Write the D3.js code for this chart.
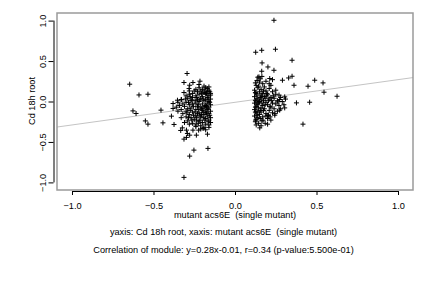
<!DOCTYPE html>
<html>
<head>
<meta charset="utf-8">
<script src="https://cdn.jsdelivr.net/npm/d3@7"></script>
<style>
  body { margin: 0; background: #fff; }
  svg text { font-family: "Liberation Sans", Arial, sans-serif; fill: #000; white-space: pre; }
</style>
</head>
<body>
<svg class="plotSVG" width="432" height="288"></svg>
<script>
// regression of module
const slope = 0.28;
const intercept = -0.01;

const xTicks = [-1.0, -0.5, 0.0, 0.5, 1.0];
const yTicks = [-1.0, -0.5, 0.0, 0.5, 1.0];

const xLabel = 'mutant acs6E  (single mutant)';
const yLabel = 'Cd 18h root';
const subLines = [
  'yaxis: Cd 18h root, xaxis: mutant acs6E  (single mutant)',
  'Correlation of module: y=0.28x-0.01, r=0.34 (p-value:5.500e-01)'
];

// scattered points, left side
const leftOutliers = [
  [-0.646, 0.214], [-0.589, 0.081], [-0.534, 0.090], [-0.626, -0.116], [-0.607, -0.148],
  [-0.454, -0.107], [-0.550, -0.240], [-0.534, -0.280], [-0.442, -0.264],
  [-0.294, 0.346], [-0.313, 0.235], [-0.258, 0.235], [-0.215, 0.251], [-0.221, 0.21],
  [-0.278, 0.201], [-0.282, 0.16], [-0.313, 0.111], [-0.374, -0.284], [-0.39, -0.181],
  [-0.38, -0.025], [-0.38, -0.086], [-0.353, 0.016], [-0.329, 0.025], [-0.333, -0.358],
  [-0.323, -0.326], [-0.313, -0.465], [-0.298, -0.444], [-0.292, -0.395], [-0.298, -0.354],
  [-0.258, -0.354], [-0.278, -0.416], [-0.223, -0.354], [-0.237, -0.416], [-0.196, -0.333],
  [-0.169, -0.404], [-0.252, -0.601], [-0.166, -0.58], [-0.278, -0.675], [-0.313, -0.938]
];

// dense cluster around x = -0.2
const leftCluster = [
  [-0.16,0.14],[-0.17,0.12],[-0.15,0.10],[-0.18,0.09],[-0.16,0.07],[-0.19,0.11],[-0.17,0.05],
  [-0.15,0.03],[-0.18,0.02],[-0.16,0.00],[-0.20,0.06],[-0.19,0.01],[-0.17,-0.02],[-0.15,-0.04],
  [-0.18,-0.05],[-0.16,-0.07],[-0.20,-0.03],[-0.19,-0.08],[-0.17,-0.10],[-0.15,-0.12],[-0.18,-0.13],
  [-0.16,-0.15],[-0.20,-0.11],[-0.19,-0.16],[-0.17,-0.18],[-0.15,-0.20],[-0.18,-0.21],[-0.16,-0.23],
  [-0.21,-0.19],[-0.22,-0.14],[-0.21,-0.07],[-0.22,0.00],[-0.21,0.04],[-0.22,0.09],[-0.23,0.12],
  [-0.24,0.07],[-0.23,0.02],[-0.24,-0.02],[-0.23,-0.06],[-0.24,-0.10],[-0.23,-0.15],[-0.24,-0.18],
  [-0.25,-0.22],[-0.22,-0.24],[-0.20,-0.26],[-0.18,-0.28],[-0.26,-0.13],[-0.27,-0.08],[-0.26,-0.03],
  [-0.27,0.01],[-0.26,0.05],[-0.28,0.09],[-0.25,0.13],[-0.29,0.04],[-0.28,-0.04],[-0.29,-0.09],
  [-0.28,-0.16],[-0.30,-0.12],[-0.31,-0.06],[-0.30,-0.01],[-0.32,-0.03],[-0.30,-0.19],[-0.27,-0.20],
  [-0.29,-0.24],[-0.26,-0.27],[-0.24,-0.29],[-0.21,-0.30],[-0.19,-0.32],[-0.16,-0.29],[-0.17,0.16],
  [-0.16,0.18],[-0.18,0.17],[-0.20,0.15],[-0.19,0.19],[-0.22,0.17],[-0.21,0.13],[-0.24,0.15],
  [-0.26,0.10],[-0.28,0.13],[-0.30,0.07],[-0.33,0.02],[-0.34,-0.05],[-0.33,-0.10],[-0.32,-0.15],
  [-0.35,-0.12],[-0.33,-0.20],[-0.35,-0.01],[-0.36,-0.07],[-0.15,0.08],[-0.155,-0.01],[-0.165,-0.09],
  [-0.175,-0.14],[-0.185,-0.06],[-0.195,0.03],[-0.205,-0.09],[-0.215,-0.17],[-0.225,-0.04],[-0.235,0.05],
  [-0.245,-0.13],[-0.255,-0.06],[-0.265,0.02],[-0.275,-0.11],[-0.285,-0.01],[-0.295,-0.14],[-0.305,0.03],
  [-0.155,0.12],[-0.165,0.03],[-0.175,-0.06],[-0.185,0.13],[-0.195,-0.13],[-0.205,0.10],[-0.215,0.02],
  [-0.225,-0.10],[-0.235,-0.20],[-0.245,0.01],[-0.255,-0.17],[-0.265,-0.23],[-0.275,0.06],[-0.285,-0.20],
  [-0.155,-0.17],[-0.165,-0.25],[-0.175,0.10],[-0.185,-0.23],[-0.195,-0.20],[-0.205,-0.16],[-0.215,-0.23],
  [-0.225,-0.27],[-0.235,-0.24],[-0.15,-0.26],[-0.16,-0.32],[-0.18,-0.35],[-0.21,-0.34],[-0.24,-0.31],
  [-0.28,-0.28],[-0.31,-0.26]
];

// scattered points, right side
const rightOutliers = [
  [0.239, 1.004], [0.127, 0.609], [0.164, 0.633], [0.248, 0.646], [0.35, 0.51],
  [0.166, 0.477], [0.202, 0.427], [0.164, 0.374], [0.239, 0.386], [0.147, 0.304],
  [0.213, 0.284], [0.291, 0.263], [0.329, 0.291], [0.35, 0.312], [0.489, 0.263],
  [0.54, 0.230], [0.448, 0.189], [0.362, 0.201], [0.546, 0.115], [0.626, 0.065],
  [0.458, -0.009], [0.377, -0.017], [0.417, -0.28], [0.25, 0.14], [0.305, 0.057],
  [0.305, -0.079], [0.274, -0.107], [0.244, -0.169], [0.202, -0.169], [0.152, -0.326],
  [0.127, -0.231], [0.172, -0.231], [0.274, 0.025], [0.264, -0.005]
];

// dense cluster around x = 0.17
const rightCluster = [
  [0.13,0.20],[0.14,0.17],[0.12,0.14],[0.15,0.12],[0.13,0.10],[0.16,0.08],[0.12,0.06],[0.14,0.04],
  [0.13,0.02],[0.15,0.00],[0.12,-0.02],[0.14,-0.04],[0.13,-0.06],[0.16,-0.08],[0.12,-0.10],[0.14,-0.12],
  [0.13,-0.14],[0.15,-0.16],[0.12,-0.18],[0.14,-0.20],[0.13,-0.22],[0.17,-0.19],[0.16,-0.13],[0.17,-0.05],
  [0.16,0.02],[0.17,0.10],[0.16,0.15],[0.18,0.18],[0.19,0.13],[0.18,0.06],[0.19,-0.01],[0.18,-0.09],
  [0.19,-0.15],[0.20,-0.21],[0.21,-0.11],[0.20,-0.04],[0.21,0.03],[0.20,0.09],[0.21,0.16],[0.22,0.20],
  [0.23,0.12],[0.22,0.05],[0.23,-0.02],[0.22,-0.07],[0.23,-0.14],[0.24,-0.09],[0.25,-0.03],[0.24,0.04],
  [0.25,0.09],[0.26,0.01],[0.27,-0.05],[0.26,-0.12],[0.28,0.05],[0.29,0.00],[0.27,0.08],[0.30,-0.04],
  [0.31,0.03],[0.28,-0.09],[0.125,0.23],[0.135,0.26],[0.15,0.24],[0.17,0.22],[0.19,0.25],[0.21,0.22],
  [0.23,0.27],[0.135,0.08],[0.145,-0.01],[0.125,-0.07],[0.155,-0.11],[0.135,-0.17],[0.125,-0.25],[0.145,-0.27],
  [0.165,-0.24],[0.185,-0.27],[0.175,0.01],[0.185,0.04],[0.175,-0.11],[0.195,0.07],[0.205,-0.17],[0.145,0.19],
  [0.155,0.05],[0.125,0.11],[0.165,-0.02],[0.145,-0.08],[0.155,-0.21],[0.125,0.01],[0.135,-0.03],[0.175,0.13],
  [0.195,0.10],[0.215,-0.06],[0.225,0.01],[0.235,0.07],[0.245,-0.15],[0.215,-0.19],[0.125,-0.13],[0.165,0.06],
  [0.185,-0.04],[0.205,0.01],[0.155,0.28],[0.165,0.31],[0.14,0.30],[0.13,-0.29],[0.16,-0.30],[0.20,-0.28],
  [0.22,-0.23],[0.19,-0.18]
];

const svg = d3.select('svg.plotSVG');
const fontSize = '9.2px';

const box = {left: 57, right: 413, top: 13, bottom: 190};

const x = d3.scaleLinear()
    .domain([-1.092, 1.092])
    .range([box.left, box.right]);

const y = d3.scaleLinear()
    .domain([-1.094, 1.094])
    .range([box.bottom, box.top]);

// regression line, clipped to the box
const [x0, x1] = x.domain();
svg.append('line')
    .attr('class', 'fitLine')
    .attr('x1', x(x0))
    .attr('y1', y(slope * x0 + intercept))
    .attr('x2', x(x1))
    .attr('y2', y(slope * x1 + intercept))
    .style('stroke', '#c4c4c4')
    .style('stroke-width', 1);

const allPts = leftOutliers.concat(leftCluster, rightOutliers, rightCluster);

svg.append('g')
    .attr('class', 'points')
    .selectAll('path')
    .data(allPts)
    .enter()
    .append('path')
    .attr('d', d => {
      const px = x(d[0]), py = y(d[1]);
      return `M${px - 2.5},${py}H${px + 2.5}M${px},${py - 2.5}V${py + 2.5}`;
    })
    .style('stroke', '#000')
    .style('stroke-width', 1)
    .style('fill', 'none');

// plot box
svg.append('rect')
    .attr('x', box.left)
    .attr('y', box.top)
    .attr('width', box.right - box.left)
    .attr('height', box.bottom - box.top)
    .style('fill', 'none')
    .style('stroke', '#9a9a9a')
    .style('stroke-width', 1.5);

// x axis
const xAxis = svg.append('g')
    .attr('class', 'xAxis')
    .attr('transform', `translate(0, ${box.bottom + 1})`)
    .call(d3.axisBottom(x).tickValues(xTicks).tickFormat(d3.format('.1f')).tickSize(4).tickPadding(7));
xAxis.select('.domain').attr('d', `M${x(-1)},0.5H${x(1)}`).style('stroke', '#000');
xAxis.selectAll('text').style('font-size', fontSize).style('font-family', '"Liberation Sans", Arial, sans-serif');

// y axis
const yAxis = svg.append('g')
    .attr('class', 'yAxis')
    .attr('transform', `translate(${box.left - 3.5}, 0)`)
    .call(d3.axisLeft(y).tickValues(yTicks).tickFormat(d3.format('.1f')).tickSize(5).tickPadding(0));
yAxis.select('.domain').attr('d', `M0.5,${y(-1)}V${y(1)}`).style('stroke', '#000');
yAxis.selectAll('.tick text')
    .attr('x', 0).attr('dy', 0)
    .attr('transform', 'translate(-8,0) rotate(-90)')
    .style('text-anchor', 'middle')
    .style('font-size', fontSize)
    .style('font-family', '"Liberation Sans", Arial, sans-serif');

// titles
svg.append('text')
    .attr('class', 'xLabel')
    .attr('x', 235)
    .attr('y', 218)
    .style('text-anchor', 'middle')
    .style('font-size', fontSize)
    .text(xLabel);

svg.append('text')
    .attr('class', 'yLabel')
    .attr('transform', 'translate(35, 101) rotate(-90)')
    .style('text-anchor', 'middle')
    .style('font-size', fontSize)
    .text(yLabel);

svg.append('g')
    .attr('class', 'subLines')
    .selectAll('text')
    .data(subLines)
    .enter()
    .append('text')
    .attr('x', 223.5)
    .attr('y', (d, i) => 235 + i * 17.5)
    .style('text-anchor', 'middle')
    .style('font-size', fontSize)
    .text(d => d);
</script>
</body>
</html>
